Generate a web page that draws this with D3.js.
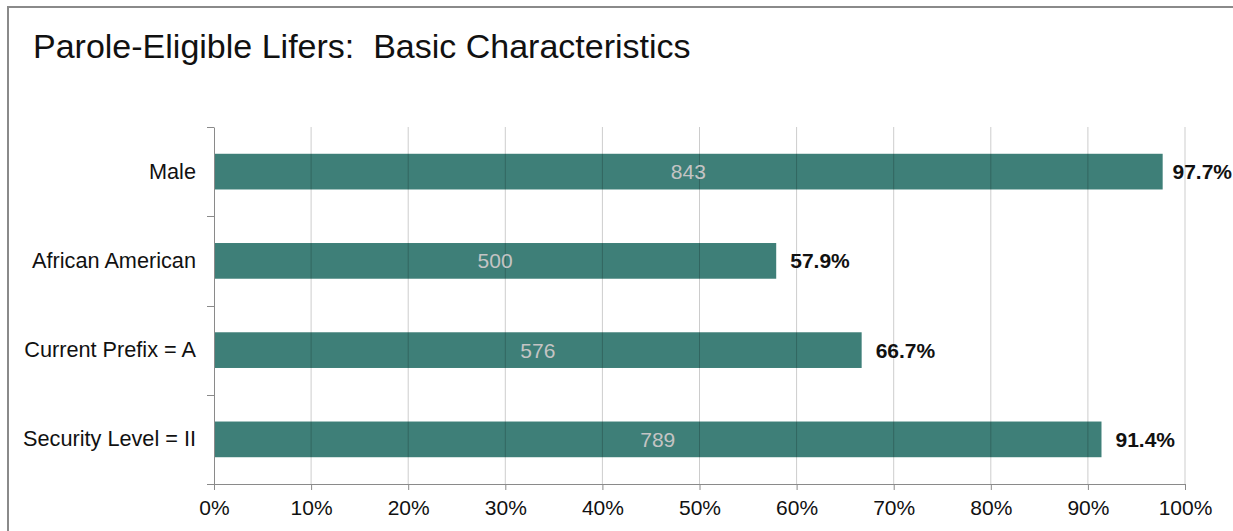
<!DOCTYPE html>
<html>
<head>
<meta charset="utf-8">
<script src="https://cdn.jsdelivr.net/npm/d3@7"></script>
<style>
  html, body { margin: 0; padding: 0; background: #fff; }
  svg { display: block; font-family: "Liberation Sans", Arial, sans-serif; }
</style>
</head>
<body>
<svg id="chart" width="1233" height="531"></svg>
<script>
const title = "Parole-Eligible Lifers:  Basic Characteristics";
const categories = ["Male", "African American", "Current Prefix = A", "Security Level = II"];
const percentValues = [97.7, 57.9, 66.7, 91.4];
const countValues = [843, 500, 576, 789];
const tickValues = [0, 10, 20, 30, 40, 50, 60, 70, 80, 90, 100];

const W = 1233, H = 531;
const margin = { left: 214, right: 48, top: 127, bottom: 47 };
const svg = d3.select("#chart");

// frame
svg.append("path")
  .attr("d", `M8,${H + 2} L8,7 L${W + 2},7`)
  .attr("fill", "none").attr("stroke", "#8a8a8a").attr("stroke-width", 2);

svg.append("text")
  .attr("x", 33).attr("y", 58)
  .attr("font-size", 34).attr("fill", "#111")
  .attr("xml:space", "preserve")
  .style("white-space", "pre")
  .text(title);

const x = d3.scaleLinear().domain([0, 100]).range([margin.left, W - margin.right]);
const y = d3.scaleBand().domain(categories).range([margin.top, H - margin.bottom]).paddingInner(0.6).paddingOuter(0.3);
const yBand = d3.scaleBand().domain(categories).range([margin.top, H - margin.bottom]);

const data = categories.map((c, i) => ({ cat: c, pct: percentValues[i], n: countValues[i] }));

// bars
svg.append("g").selectAll("rect").data(data).join("rect")
  .attr("x", x(0)).attr("y", d => y(d.cat))
  .attr("width", d => x(d.pct) - x(0)).attr("height", y.bandwidth())
  .attr("fill", "#3e7f78");

// gridlines (on top, translucent)
svg.append("g").selectAll("line").data(tickValues.slice(1)).join("line")
  .attr("x1", d => x(d)).attr("x2", d => x(d))
  .attr("y1", margin.top).attr("y2", H - margin.bottom)
  .attr("stroke", "#000").attr("stroke-opacity", 0.2).attr("stroke-width", 1);

// x axis
const xAxis = svg.append("g")
  .attr("transform", `translate(0,${H - margin.bottom})`)
  .call(d3.axisBottom(x).tickValues(tickValues).tickFormat(d => d + "%").tickSize(6).tickSizeOuter(0).tickPadding(10));
xAxis.select(".domain").attr("stroke", "#8a8a8a");
xAxis.selectAll(".tick line").attr("stroke", "#8a8a8a");
xAxis.selectAll("text").attr("font-size", 21).attr("fill", "#111").attr("font-family", "Liberation Sans, Arial, sans-serif");

// y axis
const yAxis = svg.append("g")
  .attr("transform", `translate(${margin.left},0)`)
  .call(d3.axisLeft(yBand).tickSize(0).tickPadding(18));
yAxis.select(".domain").attr("stroke", "#8a8a8a");
yAxis.selectAll("text").attr("font-size", 21.7).attr("fill", "#111").attr("font-family", "Liberation Sans, Arial, sans-serif");

const bounds = categories.map(c => yBand(c)).concat([H - margin.bottom]);
svg.append("g").selectAll("line").data(bounds).join("line")
  .attr("x1", margin.left - 7).attr("x2", margin.left)
  .attr("y1", d => Math.round(d) + 0.5).attr("y2", d => Math.round(d) + 0.5)
  .attr("stroke", "#8a8a8a");

// value inside bars
svg.append("g").selectAll("text").data(data).join("text")
  .attr("x", d => (x(0) + x(d.pct)) / 2)
  .attr("y", d => y(d.cat) + y.bandwidth() / 2)
  .attr("dy", "0.36em")
  .attr("text-anchor", "middle")
  .attr("font-size", 21).attr("fill", "#c4c4c4")
  .attr("font-family", "'Liberation Sans', Arial, sans-serif")
  .text(d => d.n);

// percent labels
const pl = svg.append("g").selectAll("text").data(data).join("text")
  .attr("y", d => y(d.cat) + y.bandwidth() / 2)
  .attr("dy", "0.36em")
  .attr("font-size", 21).attr("font-weight", "bold").attr("fill", "#111")
  .text(d => d.pct.toFixed(1) + "%");
pl.each(function(d) {
  const w = this.getComputedTextLength();
  const xx = Math.min(x(d.pct) + 14, W - 1 - w);
  d3.select(this).attr("x", xx);
});
</script>
</body>
</html>
